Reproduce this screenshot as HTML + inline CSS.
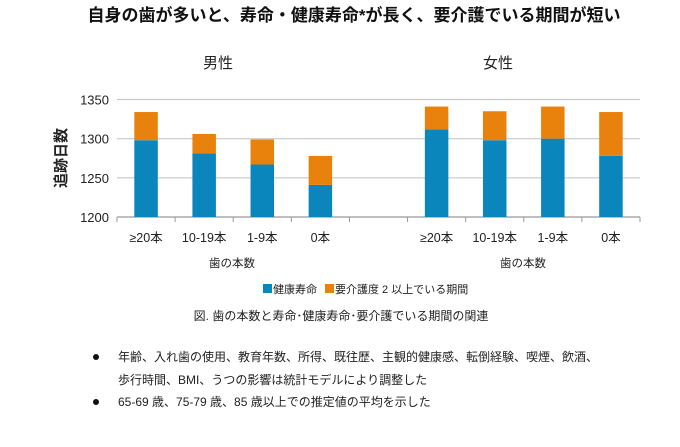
<!DOCTYPE html>
<html><head><meta charset="utf-8"><style>
body{margin:0;background:#fff;width:680px;height:442px;overflow:hidden;font-family:"Liberation Sans","Noto Sans CJK JP",sans-serif;}
svg text{font-family:"Liberation Sans","Noto Sans CJK JP",sans-serif;}
</style></head><body>
<svg id="chart" width="680" height="442">
<text x="354" y="21" text-anchor="middle" font-size="17" font-weight="bold" fill="#111">自身の歯が多いと、寿命・健康寿命*が長く、要介護でいる期間が短い</text>
<text x="218" y="68" text-anchor="middle" font-size="15" fill="#222">男性</text>
<text x="498" y="68" text-anchor="middle" font-size="15" fill="#222">女性</text>
<g id="grid"></g><g id="bars"></g><g id="axes"></g>
<text transform="translate(66,158) rotate(-90)" text-anchor="middle" font-size="15" font-weight="bold" fill="#222">追跡日数</text>
<text x="232" y="267" text-anchor="middle" font-size="11.5" fill="#222">歯の本数</text>
<text x="523" y="267" text-anchor="middle" font-size="11.5" fill="#222">歯の本数</text>
<g>
<rect x="263" y="284" width="9" height="9" fill="#0a86bd"/>
<text x="273" y="293" font-size="11" fill="#222">健康寿命</text>
<rect x="325" y="284" width="9" height="9" fill="#e8820c"/>
<text x="335" y="293" font-size="11" fill="#222">要介護度 2 以上でいる期間</text>
</g>
<text x="341" y="320" text-anchor="middle" font-size="12" fill="#222">図. 歯の本数と寿命･健康寿命･要介護でいる期間の関連</text>
<g font-size="12" fill="#222">
<circle cx="96" cy="357" r="3" fill="#111"/>
<text x="118" y="361">年齢、入れ歯の使用、教育年数、所得、既往歴、主観的健康感、転倒経験、喫煙、飲酒、</text>
<text x="118" y="384">歩行時間、BMI、うつの影響は統計モデルにより調整した</text>
<circle cx="96" cy="402" r="3" fill="#111"/>
<text x="118" y="406">65-69 歳、75-79 歳、85 歳以上での推定値の平均を示した</text>
</g>
</svg>
<script>
const categories=["≥20本","10-19本","1-9本","0本"];
const maleHealthy=[1298,1281,1267,1241];
const maleTotal=[1334,1306,1299,1278];
const femaleHealthy=[1312,1298,1300,1278];
const femaleTotal=[1341,1335,1341,1334];
const yTicks=[1200,1250,1300,1350];
const NS="http://www.w3.org/2000/svg";
const x0=117,x1=640,slot=(x1-x0)/9,yMin=1200,yMax=1350,yB=217,yT=99.5;
function y(v){return yB-(v-yMin)/(yMax-yMin)*(yB-yT);}
function mk(tag,attrs,parent){const e=document.createElementNS(NS,tag);for(const k in attrs)e.setAttribute(k,attrs[k]);document.getElementById(parent).appendChild(e);return e;}
yTicks.forEach(t=>{
 const l=mk('line',{x1:x0,x2:x1,y1:y(t),y2:y(t),stroke:t===yMin?'#999':'#c8c8c8','stroke-width':1.2},'grid');
 
 
 const tx=mk('text',{x:x0-8,y:y(t)+5,'text-anchor':'end','font-size':13,fill:'#222'},'axes');
 tx.textContent=t;
 
 
});
for(let i=0;i<=9;i++){
 const l=mk('line',{x1:x0+i*slot,x2:x0+i*slot,y1:yB,y2:yB+5,stroke:'#999'},'axes');
 
 
}
function draw(h,tot,offset,sex){
 categories.forEach((c,i)=>{
  const cx=x0+(offset+i+0.5)*slot,w=23.5;
  const b=mk('rect',{x:cx-w/2,y:y(h[i]),width:w,height:yB-y(h[i]),fill:'#0a86bd'},'bars');
  
  
  const o=mk('rect',{x:cx-w/2,y:y(tot[i]),width:w,height:y(h[i])-y(tot[i]),fill:'#e8820c'},'bars');
  
  
  const t=mk('text',{x:cx,y:242,'text-anchor':'middle','font-size':12.5,fill:'#222'},'axes');
  t.textContent=c;
  
  
 });
}
draw(maleHealthy,maleTotal,0,'male');
draw(femaleHealthy,femaleTotal,5,'female');
</script>
</body></html>
